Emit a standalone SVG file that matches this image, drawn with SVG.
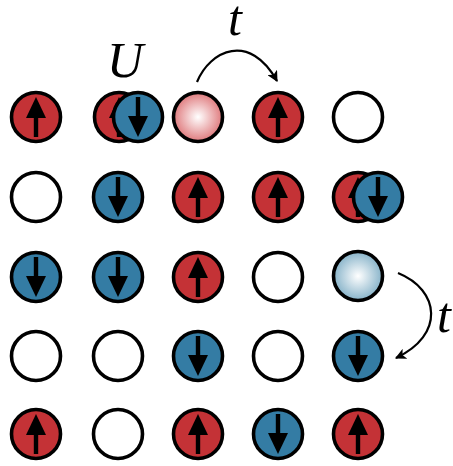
<svg xmlns="http://www.w3.org/2000/svg" width="453" height="466" viewBox="0 0 453 466">
<style>
.c{stroke:#000;stroke-width:3.6}
.r{fill:#c43236}
.b{fill:#347ca4}
.e{fill:#fff}
.lbl{font-family:"Liberation Serif",serif;font-style:italic;fill:#000}
.conn{fill:none;stroke:#000;stroke-width:2.2}
</style>
<defs>
<radialGradient id="gp" cx="0.5" cy="0.5" r="0.5"><stop offset="0" stop-color="#ffffff"/><stop offset="1" stop-color="#df7a7d"/></radialGradient>
<radialGradient id="gb" cx="0.5" cy="0.5" r="0.5"><stop offset="0" stop-color="#ffffff"/><stop offset="1" stop-color="#87b3c9"/></radialGradient>
<g id="up"><rect x="-2.2" y="0" width="4.4" height="20"/><polygon points="0,-20 -10,1 10,1"/></g>
<g id="dn"><rect x="-2.2" y="-20" width="4.4" height="20"/><polygon points="0,20 -10,-1 10,-1"/></g>
<marker id="ah" viewBox="0 0 10 10" refX="9" refY="5" markerWidth="5" markerHeight="5" orient="auto" markerUnits="strokeWidth"><path d="M0,0 L10,5 L0,10 L2.5,5 Z" fill="#000"/></marker>
</defs>

<!-- Row 1 -->
<g id="n11"><circle class="c r" cx="36" cy="117" r="24.5"/><use href="#up" x="36" y="117"/></g>
<g id="n12"><circle class="c r" cx="119" cy="117" r="24.5"/><use href="#up" x="119" y="117"/><circle class="c b" cx="138" cy="117" r="24.5"/><use href="#dn" x="138" y="117"/></g>
<g id="n13"><circle class="c" fill="url(#gp)" cx="198" cy="117" r="24.5"/></g>
<g id="n14"><circle class="c r" cx="278" cy="117" r="24.5"/><use href="#up" x="278" y="117"/></g>
<g id="n15"><circle class="c e" cx="358" cy="117" r="24.5"/></g>

<!-- Row 2 -->
<g id="n21"><circle class="c e" cx="36" cy="197" r="24.5"/></g>
<g id="n22"><circle class="c b" cx="118" cy="197" r="24.5"/><use href="#dn" x="118" y="197"/></g>
<g id="n23"><circle class="c r" cx="198" cy="197" r="24.5"/><use href="#up" x="198" y="197"/></g>
<g id="n24"><circle class="c r" cx="278" cy="197" r="24.5"/><use href="#up" x="278" y="197"/></g>
<g id="n25"><circle class="c r" cx="358" cy="197" r="24.5"/><use href="#up" x="358" y="197"/><circle class="c b" cx="378" cy="197" r="24.5"/><use href="#dn" x="378" y="197"/></g>

<!-- Row 3 -->
<g id="n31"><circle class="c b" cx="36" cy="277" r="24.5"/><use href="#dn" x="36" y="277"/></g>
<g id="n32"><circle class="c b" cx="118" cy="277" r="24.5"/><use href="#dn" x="118" y="277"/></g>
<g id="n33"><circle class="c r" cx="198" cy="277" r="24.5"/><use href="#up" x="198" y="277"/></g>
<g id="n34"><circle class="c e" cx="278" cy="277" r="24.5"/></g>
<g id="n35"><circle class="c" fill="url(#gb)" cx="358" cy="276" r="24.5"/></g>

<!-- Row 4 -->
<g id="n41"><circle class="c e" cx="36" cy="356" r="24.5"/></g>
<g id="n42"><circle class="c e" cx="118" cy="356" r="24.5"/></g>
<g id="n43"><circle class="c b" cx="198" cy="356" r="24.5"/><use href="#dn" x="198" y="356"/></g>
<g id="n44"><circle class="c e" cx="278" cy="356" r="24.5"/></g>
<g id="n45"><circle class="c b" cx="358" cy="356" r="24.5"/><use href="#dn" x="358" y="356"/></g>

<!-- Row 5 -->
<g id="n51"><circle class="c r" cx="36" cy="434" r="24.5"/><use href="#up" x="36" y="434"/></g>
<g id="n52"><circle class="c e" cx="118" cy="434" r="24.5"/></g>
<g id="n53"><circle class="c r" cx="198" cy="434" r="24.5"/><use href="#up" x="198" y="434"/></g>
<g id="n54"><circle class="c b" cx="278" cy="434" r="24.5"/><use href="#dn" x="278" y="434"/></g>
<g id="n55"><circle class="c r" cx="358" cy="434" r="24.5"/><use href="#up" x="358" y="434"/></g>

<!-- Connectors -->
<g id="connectors">
<path class="conn" d="M197,82 C210,50 250,32 277,81" marker-end="url(#ah)"/>
<path class="conn" d="M398,273 C440,290 445,335 396,358" marker-end="url(#ah)"/>
</g>

<!-- Labels -->
<g id="labels">
<text class="lbl" x="107" y="77" font-size="50">U</text>
<text class="lbl" x="228" y="35" font-size="50">t</text>
<text class="lbl" x="437" y="332" font-size="50">t</text>
</g>
</svg>
